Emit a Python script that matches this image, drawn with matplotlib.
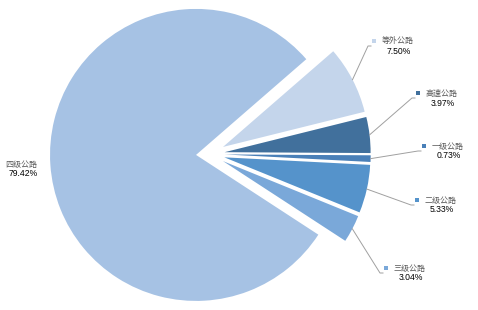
import numpy as np
import matplotlib
matplotlib.use('Agg')
import matplotlib.pyplot as plt

# data, counter-clockwise starting at the lower edge of 三级公路
names = ['三级公路', '二级公路', '一级公路', '高速公路', '等外公路', '四级公路']
values = [3.04, 5.33, 0.73, 3.97, 7.50, 79.42]
colors = ['#7AA8D9', '#5593CB', '#4A80B8', '#41709C', '#C4D5EB', '#A6C2E4']

# label anchors (pixel coords from top-left: marker x, marker y)
label_pos = [(386, 268), (417, 200), (424, 146), (418, 93), (374, 41), (None, 164)]

W, H = 478, 310
fig = plt.figure(figsize=(W / 100, H / 100), dpi=100)
ax = fig.add_axes([0, 0, 1, 1])

R = 146
cx, cy = 209.4, H - 154
# explode is in data units (pixels here)
explode = [15.3, 15.3, 15.3, 15.3, 15.3, 13.4]
wedges, _ = ax.pie(values, colors=colors, explode=explode, radius=R, center=(cx, cy),
                   startangle=-33.1, counterclock=True,
                   wedgeprops=dict(linewidth=0))
ax.set_xlim(0, W)
ax.set_ylim(0, H)
ax.set_aspect('equal')
ax.axis('off')

cjk = ['Noto Sans CJK SC', 'DejaVu Sans']
num = ['Liberation Sans', 'DejaVu Sans']

for w, name, val, col, (lx, ly) in zip(wedges, names, values, colors, label_pos):
    if lx is None:
        # big slice, label on the left without leader line
        ax.text(21, H - ly, name, family=cjk, fontsize=5.8, color='#595959',
                ha='center', va='center')
        ax.text(23, H - ly - 10, '%.2f%%' % val, family=num, fontsize=6.2, color='black',
                ha='center', va='center')
        continue
    th = np.deg2rad((w.theta1 + w.theta2) / 2)
    wx, wy = w.center
    sx = wx + R * np.cos(th)
    sy = wy + R * np.sin(th)
    ex, ey = lx - 6, H - (ly + 5)
    ax.plot([sx, ex, lx - 3], [sy, ey, ey], color='#A0A0A0', lw=0.7)
    ax.plot(lx, H - ly, marker='s', ms=2.6, color=col, mew=0)
    tx = lx + 8
    ax.text(tx, H - ly, name, family=cjk, fontsize=5.8, color='#595959',
            ha='left', va='center')
    ax.text(tx + 16.5, H - ly - 10, '%.2f%%' % val, family=num, fontsize=6.2,
            color='black', ha='center', va='center')

fig.savefig('out.png', dpi=100)
